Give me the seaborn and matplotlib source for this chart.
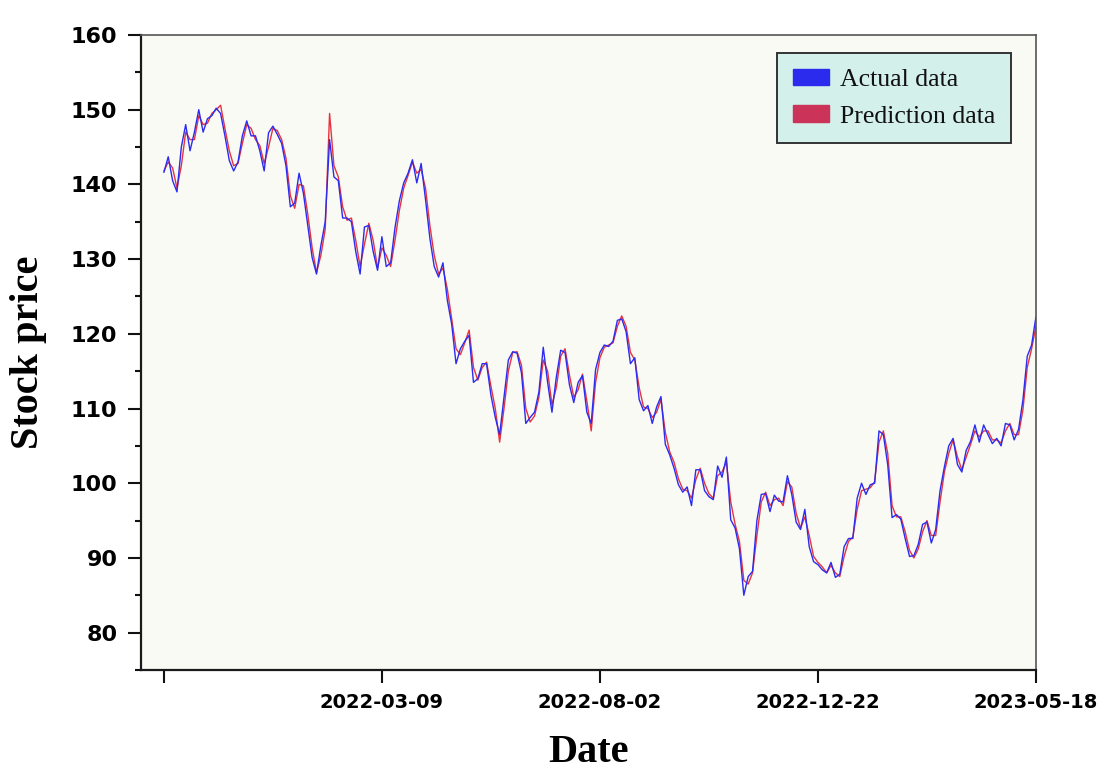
import numpy as np
import pandas as pd
import matplotlib
matplotlib.use("Agg")
import matplotlib.pyplot as plt
from matplotlib.patches import Patch
from matplotlib.ticker import MultipleLocator
import seaborn as sns

# Trading-day index (sampled every second session) and closing prices
trading_day = list(range(0, 401, 2))

actual_price = [
    141.6, 143.7, 140.5, 139.0, 145.0, 148.0, 144.5, 147.0, 150.0, 147.0,
    148.8, 149.2, 150.2, 149.5, 146.5, 143.2, 141.8, 143.0, 146.5, 148.5,
    146.5, 146.5, 144.5, 141.8, 146.9, 147.8, 146.7, 145.5, 142.5, 137.0,
    137.5, 141.5, 138.8, 134.5, 130.2, 128.0, 131.8, 135.0, 146.0, 141.0,
    140.5, 135.5, 135.5, 135.0, 131.0, 128.0, 134.3, 134.5, 131.0, 128.5,
    133.0, 129.0, 129.5, 134.2, 137.8, 140.2, 141.5, 143.3, 140.2, 142.8,
    138.0, 132.8, 129.0, 127.6, 129.5, 124.5, 121.3, 116.0, 118.0, 119.0,
    119.8, 113.5, 114.0, 116.0, 116.0, 111.8, 108.8, 106.5, 111.5, 116.5,
    117.6, 117.4, 114.8, 108.0, 108.8, 109.5, 112.2, 118.2, 113.5, 109.5,
    114.2, 117.8, 117.5, 113.2, 110.8, 113.5, 114.4, 109.5, 108.0, 115.2,
    117.5, 118.5, 118.3, 119.0, 121.8, 122.0, 120.3, 116.0, 116.8, 111.2,
    109.7, 110.4, 108.0, 110.2, 111.6, 105.2, 103.8, 102.0, 99.8, 98.8,
    99.5, 97.0, 101.8, 101.8, 99.0, 98.2, 97.8, 102.3, 100.8, 103.5,
    95.1, 94.0, 91.2, 85.0, 87.5, 88.2, 95.0, 98.5, 98.6, 96.2,
    98.4, 97.6, 97.5, 101.0, 98.5, 94.8, 93.8, 96.5, 91.5, 89.5,
    89.1, 88.4, 88.0, 89.4, 87.4, 87.8, 91.5, 92.6, 92.6, 98.0,
    100.0, 98.5, 99.8, 100.0, 107.0, 106.5, 102.5, 95.4, 95.8, 95.2,
    92.6, 90.2, 90.3, 91.8, 94.5, 94.8, 92.0, 93.8, 99.0, 102.2,
    105.0, 106.0, 102.5, 101.5, 104.4, 105.6, 107.8, 105.5, 107.8, 106.5,
    105.3, 106.0, 105.0, 108.0, 107.8, 105.8, 107.2, 111.1, 117.0, 118.5,
    122.3,
]

predicted_price = [
    141.8, 143.0, 142.2, 139.5, 142.5, 147.0, 146.0, 146.0, 149.2, 148.0,
    148.2, 149.5, 150.0, 150.6, 147.5, 144.5, 142.5, 142.8, 145.5, 148.0,
    147.5, 146.0, 145.2, 142.8, 145.0, 147.5, 147.2, 146.0, 143.5, 138.5,
    136.8, 140.0, 139.8, 136.0, 131.5, 128.2, 130.5, 134.0, 149.5, 142.5,
    141.0, 137.0, 135.2, 135.5, 132.5, 129.0, 132.0, 134.8, 132.5, 128.8,
    131.5, 130.5, 129.0, 132.5, 136.5, 139.5, 141.2, 143.0, 141.5, 142.0,
    139.5, 134.5, 130.5, 128.0, 128.8, 126.0, 122.0, 118.0, 117.2, 118.8,
    120.5, 115.5, 113.8, 115.5, 116.2, 113.0, 110.0, 105.5, 110.0, 115.0,
    117.5, 117.6, 115.8, 110.0, 108.2, 109.0, 111.5, 116.5, 115.0, 110.5,
    112.8, 117.0, 118.0, 114.5, 111.5, 112.5, 114.6, 111.0, 107.0, 113.5,
    116.8, 118.2, 118.5, 118.8, 121.0, 122.4, 121.0, 117.5, 116.5, 112.8,
    110.2, 110.0, 108.8, 109.5, 111.2, 106.8, 104.2, 102.8, 100.6, 99.2,
    99.0, 98.0, 100.5, 102.0, 100.0, 98.6, 98.0, 101.0, 101.5, 102.8,
    97.5, 94.5, 92.2, 87.0, 86.5, 88.0, 93.0, 97.5, 98.8, 97.0,
    97.8, 98.0, 97.0, 100.2, 99.5, 96.0, 94.0, 95.5, 93.0, 90.2,
    89.4, 88.8, 88.0, 89.0, 88.0, 87.5, 90.2, 92.2, 92.8, 96.5,
    99.0, 99.2, 99.4, 100.2, 105.5, 107.0, 104.0, 97.0, 95.5, 95.5,
    93.5, 91.0, 90.0, 91.2, 93.5, 95.0, 93.0, 93.0, 97.5, 101.5,
    104.0, 105.8, 103.5, 101.8, 103.5, 105.2, 107.0, 106.2, 107.0, 107.0,
    105.8, 105.8, 105.4, 107.0, 108.0, 106.5, 106.5, 109.8, 115.5, 118.0,
    121.0,
]

tick_days = [0, 100, 200, 300, 400]
tick_labels = ["", "2022-03-09", "2022-08-02", "2022-12-22", "2023-05-18"]

series_names = ["Actual data", "Prediction data"]
line_colors = {"Actual data": "#2b2bf2", "Prediction data": "#e8323f"}
legend_colors = ["#2b2bee", "#cc3358"]

df = pd.DataFrame({
    "day": trading_day * 2,
    "price": actual_price + predicted_price,
    "series": [series_names[0]] * len(actual_price) + [series_names[1]] * len(predicted_price),
})

sns.set_theme(style="ticks")
plt.rcParams["font.family"] = ["DejaVu Sans"]
plt.rcParams["text.color"] = "black"
plt.rcParams["axes.labelcolor"] = "black"
plt.rcParams["xtick.color"] = "black"
plt.rcParams["ytick.color"] = "black"

fig = plt.figure(figsize=(11.19, 7.74), dpi=100)
fig.patch.set_facecolor("white")
ax = fig.add_axes([0.126, 0.1344, 0.7998, 0.8204])
ax.set_facecolor("#f8faf3")

sns.lineplot(data=df, x="day", y="price", hue="series",
             hue_order=[series_names[1], series_names[0]],
             palette=line_colors, linewidth=1.0, ax=ax, legend=False,
             estimator=None, sort=False)

ax.set_xlim(-10.5, 400)
ax.set_ylim(75, 160)
ax.set_xticks(tick_days)
ax.set_xticklabels(tick_labels)
ax.yaxis.set_major_locator(MultipleLocator(10))
ax.yaxis.set_minor_locator(MultipleLocator(5))

for lab in ax.get_xticklabels():
    lab.set_fontweight("bold")
    lab.set_fontsize(14)
    lab.set_color("black")
for lab in ax.get_yticklabels():
    lab.set_fontweight("bold")
    lab.set_fontsize(16)
    lab.set_color("black")

ax.tick_params(axis="x", which="major", direction="out", length=9.5, width=1.5,
               color="#111111", pad=7)
ax.tick_params(axis="y", which="major", direction="out", length=9.5, width=1.5,
               color="#111111", pad=7.5)
ax.tick_params(axis="y", which="minor", direction="out", length=4.5, width=1.5,
               color="#111111")
ax.tick_params(axis="x", which="minor", length=0)

for side in ["left", "bottom"]:
    ax.spines[side].set_color("#1a1a1a")
    ax.spines[side].set_linewidth(1.6)
for side in ["top", "right"]:
    ax.spines[side].set_color("#555555")
    ax.spines[side].set_linewidth(1.2)

ax.set_xlabel("Date", family="Liberation Serif", fontweight="bold",
              fontsize=29, labelpad=16, color="black")
ax.set_ylabel("Stock price", family="Liberation Serif", fontweight="bold",
              fontsize=29, labelpad=17, color="black")

handles = [Patch(facecolor=c, edgecolor=c) for c in legend_colors]
leg = ax.legend(handles, series_names, loc="upper right",
                bbox_to_anchor=(0.972, 0.971), frameon=True, fancybox=False,
                prop={"family": "Liberation Serif", "size": 18.5},
                handlelength=1.4, handleheight=0.6, handletextpad=0.45,
                labelspacing=0.56, borderpad=0.6, borderaxespad=0)
for t in leg.get_texts():
    t.set_color("#111111")
frame = leg.get_frame()
frame.set_facecolor("#d3f0ea")
frame.set_edgecolor("#333333")
frame.set_linewidth(1.4)
frame.set_alpha(1)

fig.savefig("out.png", dpi=100, facecolor="white")
